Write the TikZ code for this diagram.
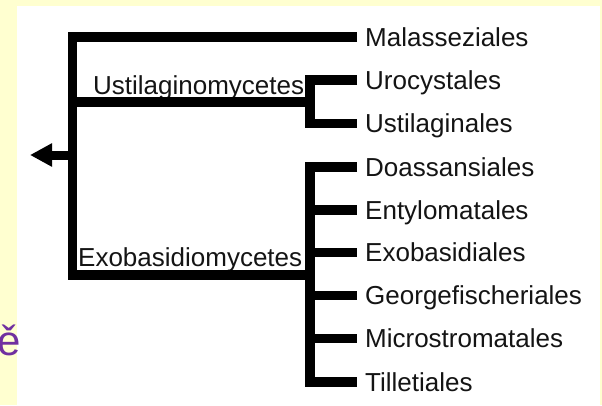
\documentclass[tikz,border=0pt]{standalone}
\usepackage{fontspec}
\setmainfont{Liberation Sans}
\usetikzlibrary{arrows.meta}
\definecolor{paleyellow}{RGB}{255,255,208}
\definecolor{ink}{RGB}{20,20,20}
\definecolor{accent}{RGB}{112,48,160}
\tikzset{
  branch/.style={draw=black,line width=9.5pt,line join=miter,line cap=butt},
  leaf/.style={anchor=west,inner xsep=8pt,inner ysep=0pt,text height=18.6pt,text depth=0pt,
    font=\fontsize{26}{28}\selectfont,text=ink},
  cladelab/.style={anchor=base west,inner sep=0pt,font=\fontsize{26}{28}\selectfont,text=ink}
}
\begin{document}
\begin{tikzpicture}[x=1pt,y=-1pt]
\useasboundingbox (0,0) rectangle (602,405);
\fill[paleyellow] (0,0) rectangle (602,405);
\fill[white] (17,6) rectangle (600,405);
\node[anchor=base east,inner sep=0pt,text=accent,font=\fontsize{42}{44}\selectfont] (mark) at (21,355) {ě};
% joints
\coordinate (rootTop) at (72.5,37);
\coordinate (rootBot) at (72.5,275);
\coordinate (rootMid) at (72.5,155);
\coordinate (arrowTip) at (30,155);
\coordinate (ustL) at (72.5,102);
\coordinate (ustJ) at (310,102);
\coordinate (exoJ) at (310,275);
% leaves
\node[leaf] (l1) at (357,37) {Malasseziales};
\node[leaf] (l2) at (357,80.1) {Urocystales};
\node[leaf] (l3) at (357,123.6) {Ustilaginales};
\node[leaf] (l4) at (357,167) {Doassansiales};
\node[leaf] (l5) at (357,210) {Entylomatales};
\node[leaf] (l6) at (357,252.5) {Exobasidiales};
\node[leaf] (l7) at (357,295.5) {Georgefischeriales};
\node[leaf] (l8) at (357,338.5) {Microstromatales};
\node[leaf] (l9) at (357,382) {Tilletiales};
% clade labels
\node[cladelab] (ustlab) at (93,94) {Ustilaginomycetes};
\node[cladelab] (exolab) at (78,266) {Exobasidiomycetes};
% tree
\draw[branch] (l1.west) -- (rootTop) -- (rootBot) -- (exoJ);
\draw[branch] (ustL) -- (ustJ);
\draw[branch] (l2.west) -| (ustJ) |- (l3.west);
\draw[branch] (l4.west) -| (exoJ) |- (l9.west);
\draw[branch] (exoJ |- l5.west) -- (l5.west);
\draw[branch] (exoJ |- l6.west) -- (l6.west);
\draw[branch] (exoJ |- l7.west) -- (l7.west);
\draw[branch] (exoJ |- l8.west) -- (l8.west);
\draw[branch,line width=9pt,-{Triangle[length=22pt,width=22pt]}] (rootMid) -- (arrowTip);
\end{tikzpicture}
\end{document}
